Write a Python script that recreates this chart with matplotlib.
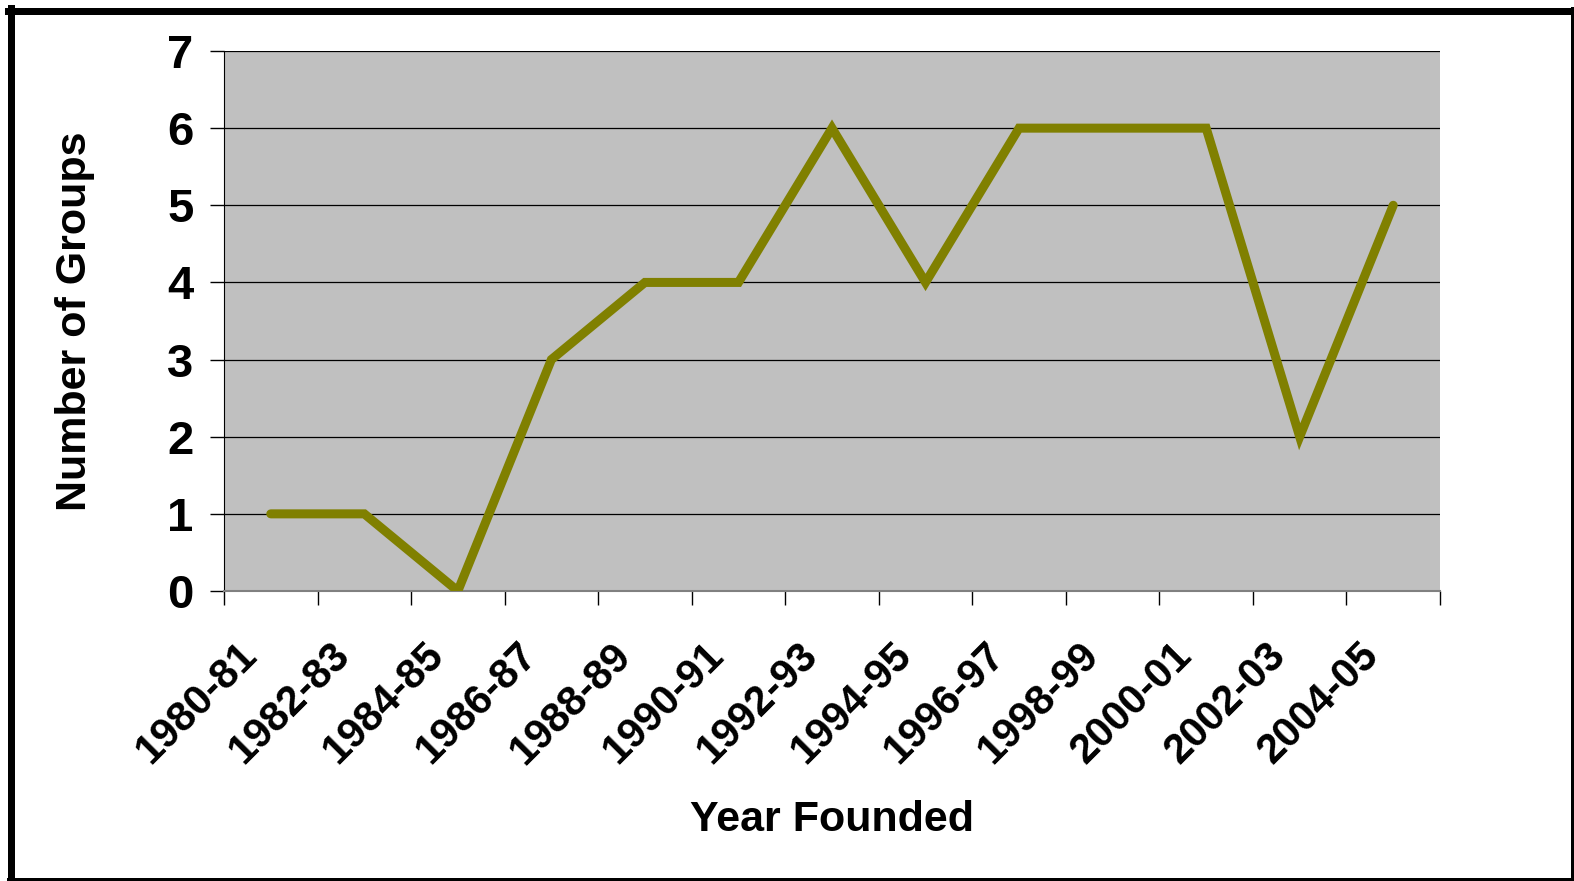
import matplotlib
matplotlib.use('Agg')
from matplotlib import pyplot as plt
from matplotlib.lines import Line2D

# Data
years = ['1980-81', '1982-83', '1984-85', '1986-87', '1988-89', '1990-91',
         '1992-93', '1994-95', '1996-97', '1998-99', '2000-01', '2002-03',
         '2004-05']
groups = [1, 1, 0, 3, 4, 4, 6, 4, 6, 6, 6, 2, 5]

plt.rcParams['font.family'] = ['Liberation Sans', 'DejaVu Sans']
plt.rcParams['font.weight'] = 'bold'

W, H = 1574, 881
fig = plt.figure(figsize=(W / 100, H / 100), dpi=100)
ax = fig.add_axes([224 / W, 1 - 591 / H, 1216 / W, 540 / H])
ax.set_facecolor('#c0c0c0')

x = [i + 0.5 for i in range(len(years))]
ax.plot(x, groups, color='#808000', lw=6.5, solid_capstyle='round',
        solid_joinstyle='miter', zorder=3)

# Axes and grid
ax.set_xlim(0, len(years))
ax.set_ylim(0, 7)
ax.set_yticks(range(8))
ax.yaxis.grid(True, color='black', lw=0.9)
ax.set_axisbelow(True)
ax.set_xticks(range(len(years) + 1))
ax.set_xticklabels([])
# labels sit a little left of the category centre, as in the original
ax.set_xticks([i + 0.13 for i in range(len(years))], minor=True)
ax.set_xticklabels(years, minor=True, rotation=45, ha='right', va='top',
                   rotation_mode='anchor', fontsize=30, fontweight='bold')
ax.tick_params(axis='x', which='minor', length=0, pad=32)
ax.tick_params(axis='x', which='major', length=10, width=1, direction='out')
ax.tick_params(axis='y', length=10, width=1, labelsize=34, pad=12)

for side in ['top', 'right']:
    ax.spines[side].set_visible(False)
ax.spines['left'].set_linewidth(0.8)
ax.spines['bottom'].set_color('#808080')
ax.spines['bottom'].set_linewidth(1.5)

ax.set_ylabel('Number of Groups', fontsize=31, fontweight='bold', labelpad=52)
ax.set_xlabel('Year Founded', fontsize=31, fontweight='bold', labelpad=20)

# Outer border (heavier on top and left)
def px_line(x0, y0, x1, y1, w):
    fig.add_artist(Line2D([x0 / W, x1 / W], [1 - y0 / H, 1 - y1 / H],
                          transform=fig.transFigure, color='black',
                          lw=w * 0.72, solid_capstyle='projecting'))

px_line(8, 11, 1572, 11, 7)
px_line(11, 8, 11, 879, 7)
px_line(1572, 8, 1572, 879, 3)
px_line(8, 879, 1572, 879, 3)

fig.savefig('out.png', dpi=100)
